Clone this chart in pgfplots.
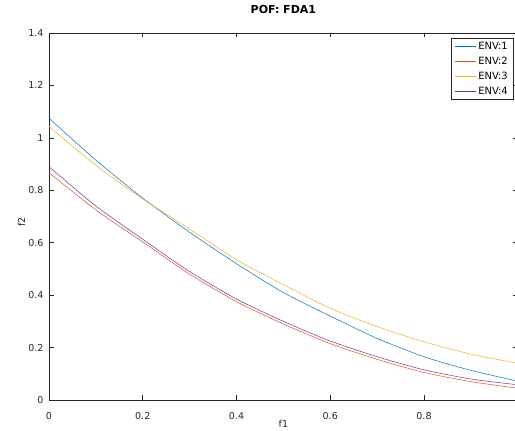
\documentclass[border=0pt]{standalone}
\usepackage{pgfplots}
\pgfplotsset{compat=1.18}
\usepackage{fontspec}
\setmainfont{DejaVu Sans}
\definecolor{mblue}{rgb}{0,0.447,0.741}
\definecolor{morange}{rgb}{0.85,0.325,0.098}
\definecolor{myellow}{rgb}{0.929,0.694,0.125}
\definecolor{mpurple}{rgb}{0.494,0.184,0.556}
\definecolor{axgray}{rgb}{0.15,0.15,0.15}
\begin{document}
\begin{tikzpicture}
\useasboundingbox (0pt,0pt) rectangle (515pt,431pt);
\begin{axis}[
  at={(49pt,31pt)}, anchor=south west,
  width=468.75pt, height=367pt, scale only axis,
  xmin=0, xmax=1, ymin=0, ymax=1.4,
  xtick={0,0.2,0.4,0.6,0.8},
  ytick={0,0.2,0.4,0.6,0.8,1,1.2,1.4},
  tick align=inside, tick pos=both,
  major tick length=4.5pt,
  axis line style={axgray, line width=0.6pt},
  every tick/.style={axgray, line width=0.6pt},
  /pgf/number format/assume math mode=true,
  tick label style={font=\fontsize{9.5}{11}\selectfont, text=axgray},
  yticklabel style={xshift=-2pt},
  xticklabel style={yshift=-8.5pt},
  title={\textbf{POF: FDA1}},
  title style={font=\fontsize{11}{12}\selectfont, at={(axis description cs:0.5,1)}, anchor=base, yshift=13pt},
  xlabel={f1}, ylabel={f2},
  label style={font=\fontsize{9.5}{11}\selectfont, text=axgray},
  xlabel style={at={(axis description cs:0.5,0)}, anchor=base, yshift=-28pt},
  ylabel style={at={(axis description cs:-0.0512,0.485)}, anchor=base},
  legend style={at={(rel axis cs:0.99,0.986)}, anchor=north east,
    font=\fontsize{10}{11}\selectfont, draw=axgray, line width=0.5pt,
    inner xsep=3pt, inner ysep=1.5pt, row sep=2.2pt, cells={anchor=west}},
  legend cell align=left,
  legend image code/.code={\draw[#1, line width=0.6pt] (0pt,0pt) -- (21pt,0pt);},
]
\addplot[mblue, line width=0.5pt, smooth, tension=0.4] coordinates {
(0,1.075) (0.1,0.915) (0.2,0.77) (0.3,0.64) (0.4,0.52) (0.5,0.41) (0.6,0.32) (0.7,0.235) (0.8,0.165) (0.9,0.113) (1,0.072)};
\addlegendentry{ENV:1}
\addplot[morange, line width=0.5pt, smooth, tension=0.4] coordinates {
(0,0.867) (0.1,0.725) (0.2,0.603) (0.3,0.48) (0.4,0.375) (0.5,0.29) (0.6,0.215) (0.7,0.155) (0.8,0.105) (0.9,0.07) (1,0.045)};
\addlegendentry{ENV:2}
\addplot[myellow, line width=0.5pt, smooth, tension=0.4] coordinates {
(0,1.043) (0.1,0.895) (0.2,0.767) (0.3,0.652) (0.4,0.535) (0.5,0.44) (0.6,0.35) (0.7,0.28) (0.8,0.222) (0.9,0.175) (1,0.14)};
\addlegendentry{ENV:3}
\addplot[mpurple, line width=0.5pt, smooth, tension=0.4] coordinates {
(0,0.89) (0.1,0.74) (0.2,0.613) (0.3,0.49) (0.4,0.385) (0.5,0.30) (0.6,0.225) (0.7,0.165) (0.8,0.115) (0.9,0.08) (1,0.058)};
\addlegendentry{ENV:4}
\end{axis}
\end{tikzpicture}
\end{document}
